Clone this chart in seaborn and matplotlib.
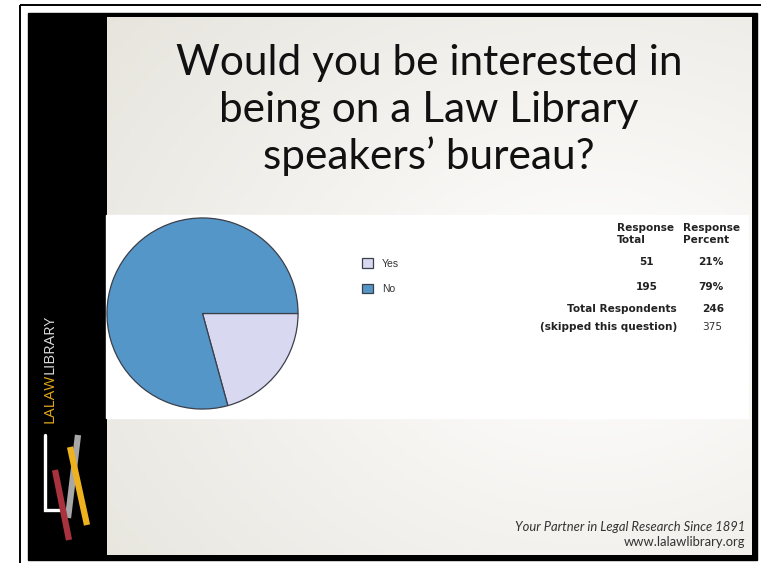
import numpy as np
import matplotlib
matplotlib.use("Agg")
import matplotlib.pyplot as plt
from matplotlib.patches import Rectangle
import seaborn as sns

# ---- data ----
answers = ["Yes", "No"]
response_total = [51, 195]
response_percent = ["21%", "79%"]
total_respondents = 246
skipped_question = 375

title_lines = ["Would you be interested in",
               "being on a Law Library",
               "speakers\u2019 bureau?"]
footer_lines = ["Your Partner in Legal Research Since 1891",
                "www.lalawlibrary.org"]

pie_colors = ["#D9D8F1", "#5596C8"]

W, H = 761, 563


def main():
    sns.set_theme(style="white")
    plt.rcParams["font.family"] = ["Lato", "DejaVu Sans"]

    fig = plt.figure(figsize=(W / 100, H / 100), dpi=100)
    fig.patch.set_facecolor("white")

    # overlay axes in pixel coordinates for the slide decoration
    ov = fig.add_axes([0, 0, 1, 1], zorder=0)
    ov.set_xlim(0, W)
    ov.set_ylim(H, 0)
    ov.axis("off")

    # thin outer lines
    ov.plot([20, 20], [5, H], color="black", lw=1.4, solid_capstyle="butt")
    ov.plot([20, W], [5, 5], color="black", lw=1.4, solid_capstyle="butt")

    # black frame + slide content background (subtle gradient)
    ov.add_patch(Rectangle((28, 13), 757 - 28, 560 - 13, color="black", zorder=1))
    gx, gy = np.meshgrid(np.linspace(0, 1, 200), np.linspace(0, 1, 150))
    grad = np.clip(1 - np.sqrt(((gx - 0.75) / 1.1) ** 2 + ((gy - 0.55) / 1.0) ** 2), 0, 1)
    ov.imshow(grad, cmap=sns.blend_palette(["#E4E1D9", "#FFFFFF"], as_cmap=True),
              extent=[107, 752, 555, 17], aspect="auto", zorder=2, vmin=0, vmax=1)

    # white chart panel
    ov.add_patch(Rectangle((106, 215), 748 - 106, 418 - 215, color="white", zorder=3))

    # title
    for line, yb in zip(title_lines, [75, 122, 169]):
        ov.text(429, yb, line, ha="center", va="baseline", fontsize=30.5,
                color="#111111", zorder=5)

    # footer
    ov.text(745, 531, footer_lines[0], ha="right", va="baseline", fontsize=9.4,
            style="italic", color="#333333", zorder=5)
    ov.text(745, 546, footer_lines[1], ha="right", va="baseline", fontsize=9.4,
            color="#333333", zorder=5)

    # sidebar brand text (rotated)
    t1 = ov.text(50, 423, "LALAW", rotation=90, ha="center", va="bottom",
                 fontsize=11, color="#E3A81B", family=["Open Sans", "DejaVu Sans"], zorder=5)
    fig.canvas.draw()
    bb = t1.get_window_extent()
    top_px = H - bb.y1
    ov.text(50, top_px, "LIBRARY", rotation=90, ha="center", va="bottom",
            fontsize=11, color="#DADADA", family=["Open Sans", "DejaVu Sans"], zorder=5)

    # logo
    ov.plot([45, 45, 61], [435, 510, 510], color="white", lw=2.4,
            solid_joinstyle="miter", zorder=5)
    ov.plot([78, 68], [435, 518], color="#A7A7A7", lw=4.5, solid_capstyle="butt", zorder=6)
    ov.plot([55, 69], [470, 540], color="#A8323E", lw=4.5, solid_capstyle="butt", zorder=7)
    ov.plot([70, 87], [447, 525], color="#EDB21E", lw=4.5, solid_capstyle="butt", zorder=8)

    # pie chart
    cx, cy, r = 202.5, 313.5, 96.5
    ax = fig.add_axes([(cx - r) / W, 1 - (cy + r) / H, 2 * r / W, 2 * r / H], zorder=2)
    wedges, _ = ax.pie(response_total, colors=pie_colors, startangle=0,
                       counterclock=False, radius=1,
                       wedgeprops=dict(edgecolor="#3A3F4A", linewidth=0.9))
    ax.set_xlim(-1.01, 1.01)
    ax.set_ylim(-1.01, 1.01)
    ax.axis("off")

    # legend
    leg = fig.legend(wedges, answers, loc="upper left",
                     bbox_to_anchor=(353 / W, 1 - 249 / H), frameon=False,
                     handlelength=1.0, handleheight=1.0, handletextpad=0.9,
                     labelspacing=1.45, prop={"family": "Liberation Sans", "size": 7.5})
    for txt in leg.get_texts():
        txt.set_color("#333333")

    # response table
    tkw = dict(fontsize=7.6, fontweight="bold", color="#222222",
               family=["DejaVu Sans"], zorder=5)
    ov.text(617, 228, "Response", ha="left", va="center", **tkw)
    ov.text(617, 240, "Total", ha="left", va="center", **tkw)
    ov.text(683, 228, "Response", ha="left", va="center", **tkw)
    ov.text(683, 240, "Percent", ha="left", va="center", **tkw)
    for total, pct, yy in zip(response_total, response_percent, [262, 287]):
        ov.text(647, yy, str(total), ha="center", va="center", **tkw)
        ov.text(711, yy, pct, ha="center", va="center", **tkw)
    ov.text(677, 309, "Total Respondents", ha="right", va="center", **tkw)
    ov.text(713, 309, str(total_respondents), ha="center", va="center", **tkw)
    ov.text(677, 327, "(skipped this question)", ha="right", va="center", **tkw)
    ov.text(712, 327, str(skipped_question), ha="center", va="center",
            fontsize=7.6, color="#333333", family=["DejaVu Sans"], zorder=5)

    fig.savefig("out.png", dpi=100)


if __name__ == "__main__":
    main()
